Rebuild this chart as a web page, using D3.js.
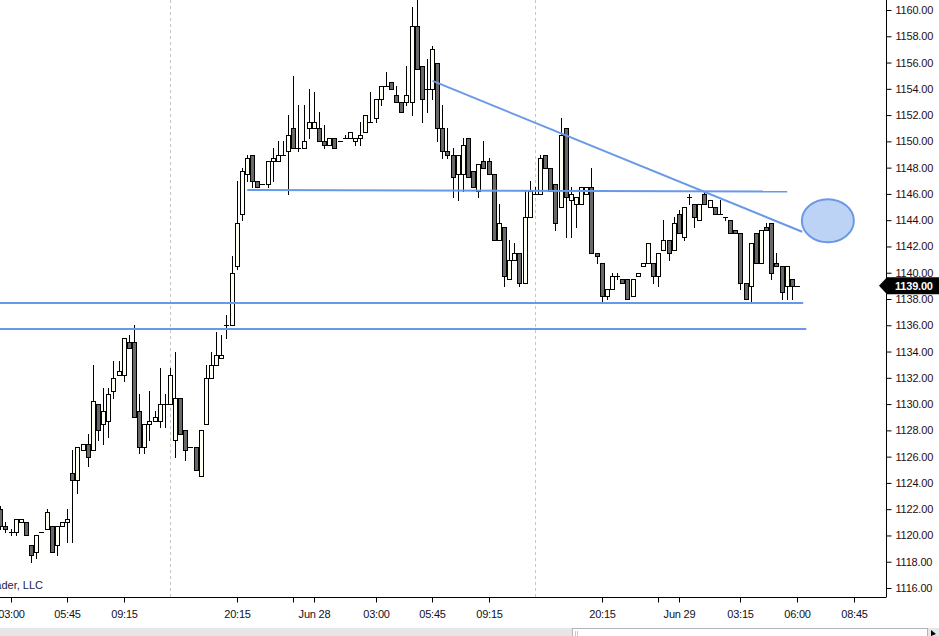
<!DOCTYPE html>
<html><head><meta charset="utf-8">
<script src="https://cdn.jsdelivr.net/npm/d3@7"></script>
<style>body{margin:0;background:#fff;overflow:hidden} svg{display:block}</style>
</head><body>
<svg id="c" width="939" height="636"></svg>
<script>
// ---- data (15-minute bars, index order left to right) ----
const opens = [1122.0,1120.75,1120.25,1120.25,1121.0,1121.0,1119.25,1118.75,1120.25,1120.5,
1120.75,1119.25,1120.75,1121.0,1124.75,1124.25,1126.5,1127.0,1126.5,1130.0,
1128.5,1128.75,1131.0,1132.25,1132.25,1134.75,1134.75,1129.5,1126.75,1128.5,
1128.75,1128.75,1130.0,1130.0,1127.25,1130.5,1128.0,1126.75,1126.75,1124.5,
1128.5,1132.0,1133.0,1133.5,1136.0,1136.0,1140.5,1144.5,1147.5,1149.0,
1147.0,1146.75,1146.75,1148.5,1148.5,1149.0,1149.25,1151.0,1149.5,1149.5,
1151.0,1151.0,1151.0,1150.0,1149.75,1150.25,1150.0,1150.25,1150.25,1150.0,
1150.25,1150.75,1151.5,1151.75,1153.25,1154.25,1154.5,1153.5,1153.0,1153.0,
1153.0,1158.75,1155.75,1154.0,1154.0,1156.0,1151.0,1149.25,1149.0,1147.5,
1147.5,1150.25,1147.75,1146.25,1148.5,1148.5,1147.5,1142.5,1143.5,1139.5,
1141.0,1141.5,1139.25,1144.25,1146.0,1146.0,1149.0,1148.0,1146.75,1145.0,
1151.0,1145.5,1145.25,1145.25,1146.0,1146.5,1141.5,1140.75,1138.25,1138.75,
1139.75,1139.5,1139.5,1138.25,1139.75,1140.5,1140.75,1140.75,1139.75,1141.75,
1142.5,1141.75,1144.5,1142.75,1145.75,1145.25,1144.0,1146.0,1145.0,1145.0,
1144.5,1144.25,1144.0,1143.25,1143.0,1139.25,1139.0,1143.0,1140.75,1143.5,
1143.75,1140.75,1140.5,1139.0,1139.5,1139.0];
const highs = [1122.25,1121.0,1120.5,1121.25,1121.25,1121.0,1119.25,1120.0,1120.25,1122.0,
1120.75,1120.75,1121.0,1122.0,1126.5,1126.75,1127.0,1127.75,1133.0,1130.0,
1131.25,1131.25,1133.25,1133.25,1135.0,1135.25,1136.0,1130.75,1128.5,1131.0,
1129.5,1132.75,1130.75,1132.75,1134.0,1130.5,1128.0,1126.75,1126.75,1128.0,
1133.0,1134.0,1135.5,1135.25,1136.75,1141.25,1147.0,1148.0,1149.0,1149.0,
1147.0,1146.75,1148.5,1149.5,1150.0,1150.0,1152.0,1155.0,1152.75,1152.75,
1154.0,1153.75,1152.25,1151.25,1150.25,1150.25,1150.0,1150.5,1150.75,1150.25,
1151.5,1152.0,1153.75,1153.25,1154.25,1155.25,1154.5,1154.25,1153.0,1155.75,
1160.25,1160.75,1155.75,1156.25,1157.25,1156.0,1152.75,1151.0,1149.5,1149.0,
1150.25,1150.25,1147.75,1148.25,1150.0,1148.75,1147.5,1145.25,1143.5,1142.5,
1142.25,1141.5,1146.25,1147.0,1146.5,1149.0,1149.0,1148.0,1146.75,1151.75,
1151.0,1146.5,1145.75,1146.5,1146.5,1148.0,1141.5,1140.75,1138.75,1140.0,
1140.0,1139.5,1139.5,1139.5,1140.0,1140.75,1142.25,1140.75,1141.5,1144.0,
1142.5,1144.25,1144.75,1145.0,1146.0,1145.25,1145.25,1146.25,1145.5,1145.0,
1145.5,1144.25,1144.0,1143.25,1143.0,1139.25,1142.25,1143.0,1143.25,1143.75,
1143.75,1141.5,1140.5,1140.5,1139.5,1139.0];
const lows = [1120.5,1120.25,1120.0,1120.0,1121.0,1120.0,1118.0,1118.25,1120.25,1120.5,
1118.75,1118.5,1120.75,1119.5,1119.5,1123.25,1126.5,1125.25,1126.5,1127.25,
1127.0,1127.5,1130.5,1132.25,1131.75,1134.25,1129.0,1126.25,1126.25,1127.25,
1128.75,1128.25,1128.25,1130.0,1126.0,1127.75,1125.75,1126.75,1125.0,1124.5,
1128.5,1132.0,1133.0,1133.5,1135.0,1136.0,1140.25,1144.0,1147.0,1146.5,
1146.5,1146.75,1146.5,1147.0,1148.5,1149.0,1146.0,1149.5,1149.25,1149.5,
1150.25,1151.0,1150.0,1149.5,1149.75,1149.5,1150.0,1150.25,1150.25,1149.75,
1149.75,1150.75,1151.5,1151.5,1152.75,1154.25,1154.0,1153.0,1152.25,1152.75,
1152.0,1155.5,1151.5,1152.25,1153.25,1150.0,1148.75,1148.75,1145.75,1145.5,
1146.25,1147.25,1146.5,1145.75,1148.0,1147.5,1142.5,1142.5,1139.0,1139.5,
1141.0,1139.0,1139.25,1144.25,1146.0,1146.0,1148.0,1146.25,1143.25,1145.0,
1142.75,1142.75,1143.5,1145.25,1146.0,1141.5,1140.75,1137.75,1138.0,1138.75,
1139.5,1139.25,1138.0,1138.25,1139.75,1140.5,1140.75,1139.25,1139.0,1141.75,
1141.0,1141.75,1143.0,1142.5,1145.25,1143.5,1144.0,1145.25,1145.0,1144.5,
1144.5,1144.0,1143.0,1143.0,1138.75,1138.0,1137.75,1140.75,1140.75,1143.25,
1139.5,1140.5,1138.0,1138.0,1138.0,1139.0];
const closes = [1120.75,1120.5,1120.25,1121.25,1121.25,1120.0,1118.5,1120.0,1120.25,1121.75,
1118.75,1120.75,1121.0,1121.25,1124.25,1126.75,1127.0,1126.0,1130.25,1128.0,
1129.5,1130.75,1132.0,1132.5,1135.0,1134.25,1129.0,1126.75,1128.5,1128.75,
1129.0,1130.0,1130.0,1132.25,1130.5,1127.75,1126.5,1126.75,1125.0,1128.0,
1132.0,1133.0,1133.75,1133.75,1136.0,1140.0,1143.75,1147.75,1148.75,1147.0,
1146.5,1146.75,1148.5,1148.75,1149.0,1149.0,1150.5,1149.5,1149.5,1150.0,
1151.5,1151.5,1150.0,1149.75,1150.25,1149.5,1150.0,1150.25,1150.75,1150.25,
1150.5,1152.0,1151.5,1153.25,1154.25,1154.25,1154.0,1153.0,1152.25,1153.5,
1158.75,1155.5,1153.25,1154.0,1157.0,1151.0,1149.25,1149.0,1147.25,1149.0,
1149.75,1147.25,1146.5,1148.25,1148.0,1147.5,1142.5,1143.75,1139.75,1141.0,
1141.5,1139.25,1144.25,1146.25,1146.0,1148.75,1148.0,1146.25,1143.75,1150.5,
1145.75,1146.0,1145.75,1146.5,1146.5,1141.5,1141.25,1138.25,1138.75,1139.75,
1139.75,1139.25,1138.0,1139.5,1140.0,1140.75,1142.25,1139.75,1141.5,1142.5,
1141.5,1143.75,1143.0,1145.0,1145.75,1144.25,1145.25,1145.25,1145.5,1144.5,
1144.5,1144.25,1143.0,1143.0,1139.25,1138.0,1142.25,1140.75,1143.25,1143.25,
1140.0,1140.5,1138.5,1140.5,1139.0,1139.0];

const xTickIdx    = [2, 13, 24, 46, 57, 61, 73, 84, 95, 117, 128, 132, 144, 155, 166];
const xTickLabels = ["03:00","05:45","09:15","20:15","","Jun 28","03:00","05:45","09:15","20:15","","Jun 29","03:15","06:00","08:45"];
const yTickValues = d3.range(1116, 1160.01, 2);
const sessionBreakIdx = [33, 104];
const lastPrice = 1139.00;

// drawn annotation lines (bar index / price)
const lineStartIdx   = [-2, -2, 48.05, 84.1];
const lineStartPrice = [1137.70, 1135.72, 1146.30, 1154.60];
const lineEndIdx     = [156.2, 156.8, 153.1, 156.0];
const lineEndPrice   = [1137.70, 1135.72, 1146.18, 1143.12];
const ellipseIdx = [161.0];
const ellipsePrice = [1143.96];

// ---- layout ----
const W = 939, H = 636, plotR = 886, plotB = 597;
const svg = d3.select("#c");
const x = d3.scaleLinear().domain([0, 172]).range([0.3, 884.4]);
const y = d3.scaleLinear().domain([1116, 1160]).range([588, 10]);

svg.append("rect").attr("width", W).attr("height", H).attr("fill", "#fff");
svg.append("defs").append("clipPath").attr("id", "clip")
  .append("rect").attr("x", 0).attr("y", 0).attr("width", plotR).attr("height", plotB);

const plot = svg.append("g").attr("clip-path", "url(#clip)");

// session break dashed lines
plot.selectAll("line.sb").data(sessionBreakIdx).join("line")
  .attr("x1", d => Math.round(x(d)) + 0.5).attr("x2", d => Math.round(x(d)) + 0.5)
  .attr("y1", 0).attr("y2", plotB)
  .attr("stroke", "#c4c4c4").attr("stroke-dasharray", "3,3");

// candles
const bars = d3.range(opens.length).map(i => ({i, o: opens[i], h: highs[i], l: lows[i], c: closes[i]}));
const g = plot.append("g");
bars.forEach(b => {
  const cx = Math.round(x(b.i));
  g.append("line").attr("x1", cx + 0.5).attr("x2", cx + 0.5)
    .attr("y1", Math.round(y(b.h))).attr("y2", Math.round(y(b.l)) + 1)
    .attr("stroke", "#000").attr("stroke-width", 1);
  const top = Math.round(y(Math.max(b.o, b.c)));
  const bot = Math.round(y(Math.min(b.o, b.c)));
  if (b.o === b.c) {
    g.append("line").attr("x1", cx - 2).attr("x2", cx + 3)
      .attr("y1", top + 0.5).attr("y2", top + 0.5).attr("stroke", "#000");
  } else {
    g.append("rect").attr("x", cx - 1.5).attr("width", 4)
      .attr("y", top + 0.5).attr("height", Math.max(bot - top, 1))
      .attr("fill", b.c > b.o ? "#fffff0" : "#686868")
      .attr("stroke", "#000").attr("stroke-width", 1);
  }
});

// annotation lines
const blue = "#6a98e8";
plot.selectAll("line.an").data(lineStartIdx).join("line")
  .attr("x1", (d, k) => x(lineStartIdx[k])).attr("y1", (d, k) => y(lineStartPrice[k]))
  .attr("x2", (d, k) => x(lineEndIdx[k])).attr("y2", (d, k) => y(lineEndPrice[k]))
  .attr("stroke", blue).attr("stroke-width", 2);
plot.selectAll("ellipse").data(ellipseIdx).join("ellipse")
  .attr("cx", (d, k) => x(ellipseIdx[k])).attr("cy", (d, k) => y(ellipsePrice[k]))
  .attr("rx", 26).attr("ry", 21.5)
  .attr("fill", "#bdd3f6").attr("stroke", blue).attr("stroke-width", 2);

// copyright
svg.append("text").attr("x", 43).attr("y", 589).attr("text-anchor", "end")
  .attr("font-family", "Liberation Sans, Arial, sans-serif").attr("font-size", 11)
  .attr("fill", "#1c1c48").text("© NinjaTrader, LLC");

// axes
const font = "Liberation Sans, Arial, sans-serif";
const yAxis = svg.append("g").attr("transform", `translate(${plotR + 0.5},0)`)
  .call(d3.axisRight(y).tickValues(yTickValues).tickSize(5).tickPadding(4).tickFormat(d3.format(".2f")));
yAxis.select(".domain").attr("d", `M0,0V${plotB}`).attr("stroke", "#000");
yAxis.selectAll(".tick line").attr("stroke", "#000");
yAxis.selectAll(".tick text").attr("font-family", font).attr("font-size", 11)
  .attr("letter-spacing", "-0.2px").attr("fill", "#2a0c0c");

const xAxis = svg.append("g").attr("transform", `translate(0,${plotB + 0.5})`)
  .call(d3.axisBottom(x).tickValues(xTickIdx).tickSize(5).tickPadding(8)
    .tickFormat((d, k) => xTickLabels[k]));
xAxis.select(".domain").attr("d", `M0,0H${plotR + 0.5}`).attr("stroke", "#000");
xAxis.selectAll(".tick").attr("transform", d => `translate(${Math.round(x(d)) + 0.5},0)`);
xAxis.selectAll(".tick line").attr("stroke", "#000");
xAxis.selectAll(".tick text").attr("font-family", font).attr("font-size", 11)
  .attr("letter-spacing", "-0.2px").attr("fill", "#10101e");

// last price marker
const yl = y(lastPrice);
svg.append("path")
  .attr("d", `M879,${yl} L887,${yl - 8.5} L939,${yl - 8.5} L939,${yl + 8.5} L887,${yl + 8.5} Z`)
  .attr("fill", "#000");
svg.append("text").attr("x", 895).attr("y", yl).attr("dy", "0.35em")
  .attr("font-family", font).attr("font-size", 11).attr("font-weight", "bold")
  .attr("letter-spacing", "-0.2px").attr("fill", "#fff").text(d3.format(".2f")(lastPrice));

// scrollbar strip
svg.append("rect").attr("x", 0).attr("y", 628).attr("width", W).attr("height", 8).attr("fill", "#e6e6e6");
svg.append("rect").attr("x", 572.5).attr("y", 628.5).attr("width", 355).attr("height", 10)
  .attr("fill", "#fff").attr("stroke", "#b4b4b4");
svg.append("path").attr("d", "M575.5,631V636M577.5,631V636").attr("stroke", "#c8c8c8");
svg.append("path").attr("d", "M931,630L936,634L931,636Z").attr("fill", "#000");
</script>
</body></html>
